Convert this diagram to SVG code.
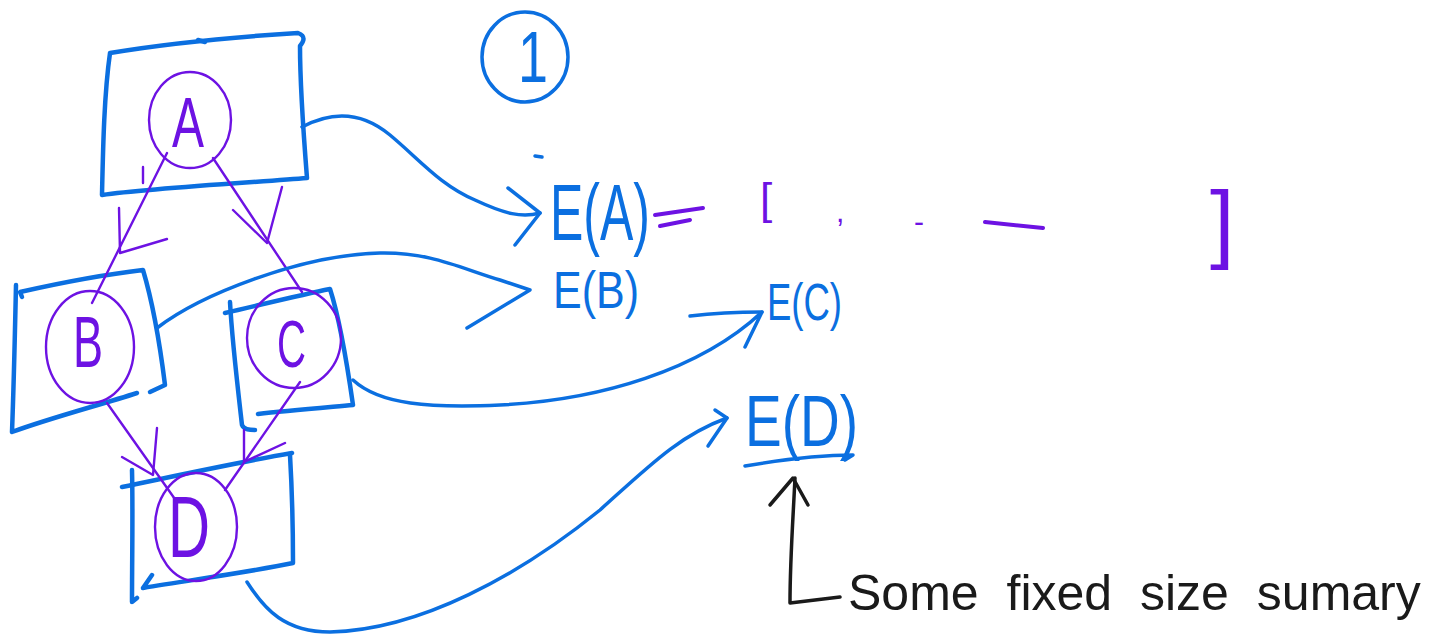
<svg xmlns="http://www.w3.org/2000/svg" width="1439" height="635" viewBox="0 0 1439 635">
<defs>
<style>
.bx{fill:none;stroke:#0b6fe0;stroke-width:4.5;stroke-linecap:round;stroke-linejoin:round}
.bl{fill:none;stroke:#0b6fe0;stroke-width:3.5;stroke-linecap:round;stroke-linejoin:round}
.pu{fill:none;stroke:#6d12e3;stroke-width:2.4;stroke-linecap:round;stroke-linejoin:round}
.pt{fill:#6d12e3;font-family:"Liberation Sans",Arial,sans-serif;font-weight:normal}
.bt{fill:#0b6fe0;font-family:"Liberation Sans",Arial,sans-serif}
.kt{fill:#1a1a1a;font-family:"Liberation Sans",Arial,sans-serif}
.kl{fill:none;stroke:#1a1a1a;stroke-width:3.5;stroke-linecap:round;stroke-linejoin:round}
</style>
</defs>
<rect width="1439" height="635" fill="#ffffff"/>

<g id="node-A">
<path class="bx" d="M110,53 C170,43 250,36 298,33 C306,36 304,41 300,46 C300,90 304,140 307,178 C260,182 150,188 102,195 C103,150 104,95 110,53"/>
<path class="bx" d="M198,40 L205,42"/>
<ellipse class="pu" cx="190" cy="120" rx="41" ry="48"/>
<text class="pt" x="172" y="147" font-size="70" textLength="32" lengthAdjust="spacingAndGlyphs">A</text>
</g>

<g id="node-B">
<path class="bx" d="M22,297 L20,292 C60,283 100,275 143,270 C152,300 160,345 165,385 L150,392"/>
<path class="bx" d="M137,393 C100,405 50,418 12,432 C14,380 15,330 16,285"/>
<ellipse class="pu" cx="90" cy="347" rx="44" ry="56"/>
<text class="pt" x="73" y="367" font-size="72" textLength="30" lengthAdjust="spacingAndGlyphs">B</text>
</g>

<g id="node-C">
<path class="bx" d="M225,313 C260,305 300,295 330,289 C340,320 348,370 353,405 C320,408 285,411 258,414"/>
<path class="bx" d="M230,302 C232,340 238,390 242,425 C244,430 250,430 255,430"/>
<ellipse class="pu" cx="294" cy="338" rx="47" ry="50"/>
<text class="pt" x="277" y="367" font-size="66" textLength="29" lengthAdjust="spacingAndGlyphs">C</text>
</g>

<g id="node-D">
<path class="bx" d="M122,487 C180,475 240,462 292,453"/>
<path class="bx" d="M290,455 C292,490 293,530 293,563 C250,572 190,580 143,588 L152,575"/>
<path class="bx" d="M132,470 C133,510 132,560 132,602 L137,598"/>
<ellipse class="pu" cx="196" cy="527" rx="41" ry="54"/>
<text class="pt" x="168" y="557" font-size="88" textLength="42" lengthAdjust="spacingAndGlyphs">D</text>
</g>

<g id="label-1">
<ellipse class="bl" cx="525" cy="57" rx="43" ry="45"/>
<text class="bt" x="518" y="82" font-size="72" textLength="30" lengthAdjust="spacingAndGlyphs">1</text>
</g>

<g id="node-EA">
<text class="bt" x="550" y="240" font-size="80" textLength="100" lengthAdjust="spacingAndGlyphs">E(A)</text>
</g>
<g id="node-EB">
<text class="bt" x="553" y="308" font-size="52" textLength="86" lengthAdjust="spacingAndGlyphs">E(B)</text>
</g>
<g id="node-EC">
<text class="bt" x="767" y="320" font-size="52" textLength="75" lengthAdjust="spacingAndGlyphs">E(C)</text>
</g>
<g id="node-ED">
<text class="bt" x="745" y="446" font-size="72" textLength="113" lengthAdjust="spacingAndGlyphs">E(D)</text>
<path class="bl" d="M745,466 C780,460 815,455 853,455 L845,460"/>
</g>

<g id="vector">
<path class="pu" style="stroke-width:4" d="M655,215 L703,208 M660,226 L690,220"/>
<text class="pt" x="760" y="214" font-size="44">[</text>
<text class="pt" x="836" y="222" font-size="30">,</text>
<text class="pt" x="914" y="232" font-size="30">-</text>
<path class="pu" style="stroke-width:4" d="M985,222 L1043,228"/>
<text class="pt" x="1210" y="252" font-size="88">]</text>
</g>

<g id="note">
<path class="kl" d="M795,478 C793,520 790,560 790,603 L840,597"/>
<path class="kl" d="M770,505 L793,478 L808,505"/>
<text class="kt" x="848" y="610" font-size="50" word-spacing="14">Some fixed size sumary</text>
</g>

<g id="connectors">
<path class="pu" d="M167,153 L92,303"/>
<path class="pu" d="M119,208 L120,253 L167,239"/>
<path class="pu" d="M143,167 L143,183"/>
<path class="pu" d="M213,158 L302,292"/>
<path class="pu" d="M282,187 L267,243 L233,210"/>
<path class="pu" d="M107,403 L177,502"/>
<path class="pu" d="M157,428 L153,475 L122,457"/>
<path class="pu" d="M300,382 L225,490"/>
<path class="pu" d="M244,430 L244,462 L285,443"/>
<path class="bl" d="M302,127 C330,112 360,110 390,135 C420,160 440,185 475,200 C505,214 522,218 540,213"/>
<path class="bl" d="M508,188 L540,213 L515,245"/>
<path class="bl" d="M157,328 C200,295 300,255 380,253 C430,252 460,268 500,280 L530,290 L467,328"/>
<path class="bl" d="M353,380 C380,405 430,408 500,405 C600,400 700,370 762,312 L745,347"/>
<path class="bl" d="M690,316 C715,313 740,312 762,312"/>
<path class="bl" d="M247,582 C265,610 285,632 330,632 C420,630 520,575 600,510 C650,465 680,435 727,418"/>
<path class="bl" d="M708,446 L727,418 L715,410"/>
<path class="bl" d="M535,156 L542,157"/>
</g>
</svg>
